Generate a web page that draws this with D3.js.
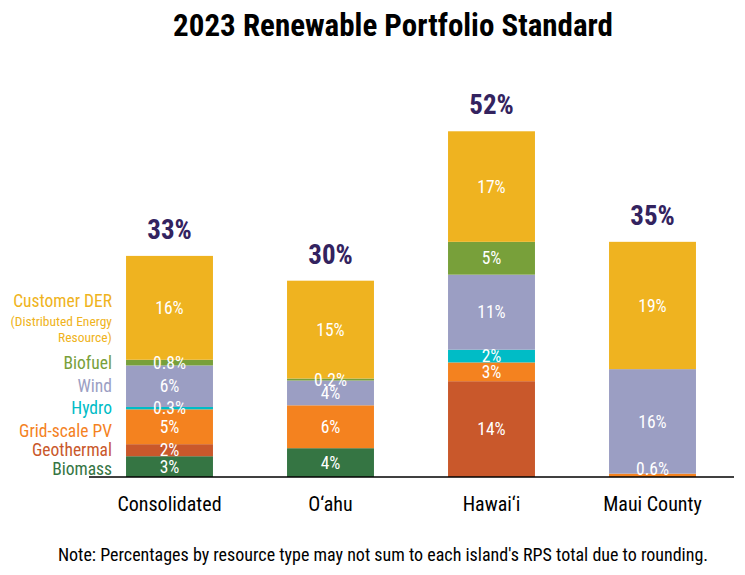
<!DOCTYPE html>
<html>
<head>
<meta charset="utf-8">
<script src="https://cdn.jsdelivr.net/npm/d3@7/dist/d3.min.js"></script>
<style>
  html, body { margin: 0; padding: 0; background: #fff; }
  svg { display: block; }
  text { font-family: "Liberation Sans Narrow", "Arial Narrow", "Roboto Condensed", "DejaVu Sans Condensed", sans-serif; }
</style>
</head>
<body>
<svg id="chart" width="745" height="575"></svg>
<script>
// ---- Data ----
const categories = ["Consolidated", "O\u2018ahu", "Hawai\u2018i", "Maui County"];
const resources = ["Biomass", "Geothermal", "Grid-scale PV", "Hydro", "Wind", "Biofuel", "Customer DER"];
const biomass     = [3.1, 4.3, 0, 0];
const geothermal  = [1.8, 0, 14.3, 0];
const gridPV      = [5.2, 6.4, 2.8, 0.5];
const hydro       = [0.35, 0, 1.9, 0];
const wind        = [6.2, 3.7, 11.2, 15.6];
const biofuel     = [0.85, 0.3, 4.9, 0];
const customerDER = [15.5, 14.6, 16.5, 19.0];
const segmentLabels = [
  ["3%", "4%", "", ""],
  ["2%", "", "14%", ""],
  ["5%", "6%", "3%", "0.6%"],
  ["0.3%", "", "2%", ""],
  ["6%", "4%", "11%", "16%"],
  ["0.8%", "0.2%", "5%", ""],
  ["16%", "15%", "17%", "19%"]
];
const totalLabels = ["33%", "30%", "52%", "35%"];
const colors = ["#357543", "#C9582B", "#F4821F", "#00BCC6", "#9B9EC3", "#78A03A", "#EFB320"];
const title = "2023 Renewable Portfolio Standard";
const note = "Note: Percentages by resource type may not sum to each island's RPS total due to rounding.";

const seriesValues = [biomass, geothermal, gridPV, hydro, wind, biofuel, customerDER];

// ---- Build table ----
const table = categories.map((c, i) => {
  const row = { category: c };
  resources.forEach((r, k) => { row[r] = seriesValues[k][i]; });
  return row;
});

const svg = d3.select("#chart");
const baseY = 477;
const x = d3.scaleBand().domain(categories).range([89, 733]).paddingInner(0.46).paddingOuter(0.23);
const y = d3.scaleLinear().domain([0, 55]).range([baseY, baseY - 55 * 6.7]);

const stack = d3.stack().keys(resources);
const stacked = stack(table);

// Title
svg.append("text").attr("x", 393).attr("y", 36)
  .attr("text-anchor", "middle").attr("font-size", 31).attr("font-weight", "bold")
  .attr("fill", "#000").text(title);

// Bars
const layers = svg.append("g").selectAll("g").data(stacked).join("g")
  .attr("fill", (d, k) => colors[k]);
layers.selectAll("rect").data(d => d).join("rect")
  .attr("x", d => x(d.data.category))
  .attr("width", x.bandwidth())
  .attr("y", d => y(d[1]))
  .attr("height", d => y(d[0]) - y(d[1]));

// Segment labels
stacked.forEach((layer, k) => {
  layer.forEach((d, i) => {
    const t = segmentLabels[k][i];
    if (!t) return;
    let cy = (y(d[0]) + y(d[1])) / 2;
    cy = Math.min(cy, baseY - 8);
    svg.append("text")
      .attr("x", x(d.data.category) + x.bandwidth() / 2)
      .attr("y", cy)
      .attr("dy", "0.35em")
      .attr("text-anchor", "middle")
      .attr("font-size", 17.5)
      .attr("fill", "#fff")
      .text(t);
  });
});

// Totals
categories.forEach((c, i) => {
  const top = stacked[stacked.length - 1][i][1];
  svg.append("text")
    .attr("x", x(c) + x.bandwidth() / 2)
    .attr("y", y(top) - 17)
    .attr("text-anchor", "middle")
    .attr("font-size", 27).attr("font-weight", "bold")
    .attr("fill", "#33235F")
    .text(totalLabels[i]);
});

// Axis
const axis = svg.append("g").attr("transform", `translate(0,${baseY})`)
  .call(d3.axisBottom(x).tickSize(0).tickPadding(20));
axis.select(".domain").attr("stroke", "#000").attr("stroke-width", 1.5).attr("d", "M89,0H734");
axis.selectAll(".tick text").attr("font-size", 20).attr("fill", "#000")
  .attr("font-family", "'Liberation Sans Narrow', 'Arial Narrow', 'Roboto Condensed', sans-serif");

// Legend (left, aligned to first bar segments)
const legX = 112;
stacked.forEach((layer, k) => {
  const d = layer[0];
  let cy = (y(d[0]) + y(d[1])) / 2;
  if (resources[k] === "Customer DER") {
    const g = svg.append("g").attr("fill", colors[k]).attr("text-anchor", "end");
    g.append("text").attr("x", legX).attr("y", cy - 7).attr("dy", "0.35em").attr("font-size", 17.5).text("Customer DER");
    g.append("text").attr("x", legX).attr("y", cy + 13).attr("dy", "0.35em").attr("font-size", 13.5).text("(Distributed Energy");
    g.append("text").attr("x", legX - 27).attr("y", cy + 29).attr("dy", "0.35em").attr("font-size", 13.5).attr("text-anchor", "middle").text("Resource)");
    return;
  }
  if (resources[k] === "Grid-scale PV") cy += 4;
  if (resources[k] === "Biomass") cy += 2;
  svg.append("text").attr("x", legX).attr("y", cy).attr("dy", "0.35em")
    .attr("text-anchor", "end").attr("font-size", 17.5).attr("fill", colors[k])
    .text(resources[k]);
});

// Note
svg.append("text").attr("x", 383).attr("y", 561)
  .attr("text-anchor", "middle").attr("font-size", 18).attr("fill", "#000").text(note);
</script>
</body>
</html>
